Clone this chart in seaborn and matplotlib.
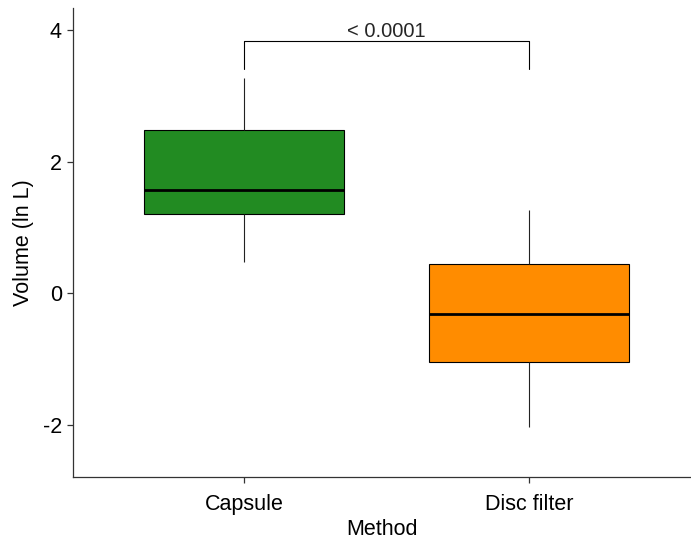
import matplotlib
matplotlib.use("Agg")
import matplotlib.pyplot as plt
import seaborn as sns
import pandas as pd

# Data: five-number summaries (min, Q1, median, Q3, max)
categories = ["Capsule", "Disc filter"]
capsule_vals = [0.476, 1.20, 1.575, 2.476, 3.266]
disc_vals = [-2.03, -1.044, -0.319, 0.451, 1.261]
colors = ["#228B22", "#FF8C00"]
p_label = "< 0.0001"
yticks = [-2, 0, 2, 4]

df = pd.DataFrame({
    "Method": [categories[0]] * len(capsule_vals) + [categories[1]] * len(disc_vals),
    "Volume": capsule_vals + disc_vals,
})

sns.set_style("white")
plt.rcParams["font.family"] = ["Liberation Sans", "DejaVu Sans"]

fig = plt.figure(figsize=(6.91, 5.44), dpi=100)
ax = fig.add_axes([73 / 691, (544 - 477) / 544, (691 - 73) / 691, (477 - 8) / 544])

sns.boxplot(
    data=df, x="Method", y="Volume", hue="Method", order=categories,
    hue_order=categories, palette=colors, width=0.7, ax=ax,
    linecolor="black", linewidth=0.8, showcaps=False, fliersize=0,
    medianprops=dict(linewidth=2.0, color="black"),
    whiskerprops=dict(linewidth=0.8, color="#222222"),
    legend=False, saturation=1,
)

# significance bracket
y_leg, y_top = 3.40, 3.83
ax.plot([0, 0, 1, 1], [y_leg, y_top, y_top, y_leg], color="black", lw=0.8)
ax.text(0.5, y_top, p_label, ha="center", va="bottom", fontsize=14.5)

ax.set_xlim(-0.6, 1.568)
ax.set_ylim(-2.79, 4.334)
ax.set_yticks(yticks)
ax.set_yticklabels([str(t) for t in yticks])
ax.set_xlabel("Method", fontsize=15.5, color="black", labelpad=3)
ax.set_ylabel("Volume (ln L)", fontsize=15.5, color="black", labelpad=6)

for side in ["top", "right"]:
    ax.spines[side].set_visible(False)
for side in ["left", "bottom"]:
    ax.spines[side].set_color("#333333")
    ax.spines[side].set_linewidth(0.9)
ax.tick_params(axis="both", which="both", direction="out", length=4,
               width=0.9, color="#333333", labelsize=15.5, labelcolor="black",
               left=True, bottom=True)
ax.tick_params(axis="x", pad=8)
ax.tick_params(axis="y", pad=4)
ax.grid(False)

fig.savefig("out.png", dpi=100)
